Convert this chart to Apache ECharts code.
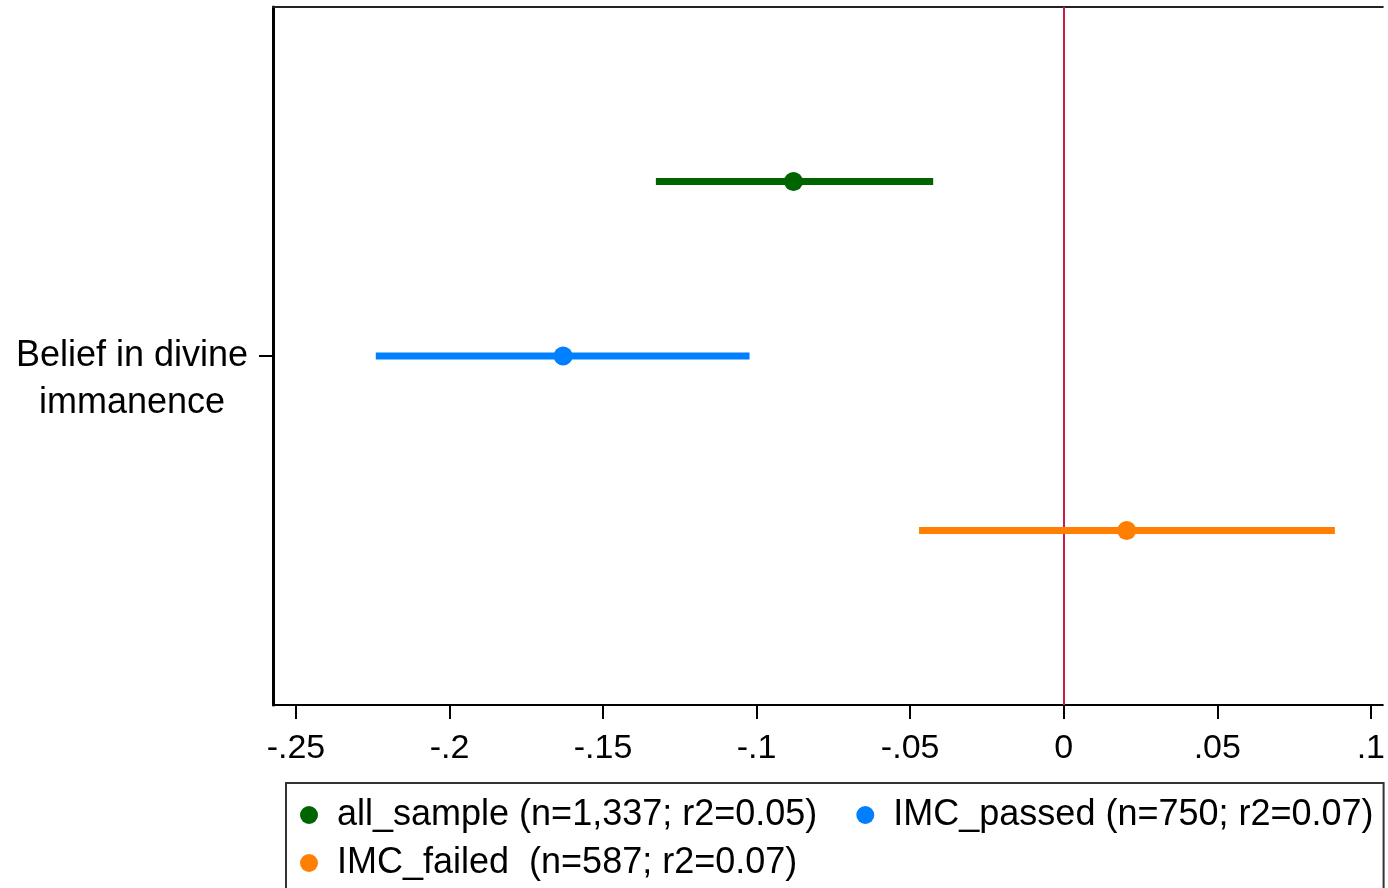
<!doctype html>
<html>

<head>
    <meta charset="utf-8">
    <title>Belief in divine immanence</title>
    <script src="https://cdn.jsdelivr.net/npm/echarts@6/dist/echarts.min.js"></script>
    <style>
        html, body { margin: 0; padding: 0; background: #fff; }
    </style>
</head>

<body>
    <div id="container" style="width:1388px;height:888px;"></div>
    <script type="text/javascript">
        // data
        var rowLabel = ['Belief in divine\nimmanence'];
        var groupNames = ['all_sample (n=1,337; r2=0.05)', 'IMC_passed (n=750; r2=0.07)', 'IMC_failed  (n=587; r2=0.07)'];
        var coef = [-0.088, -0.163, 0.0205];
        var ciLow = [-0.1328, -0.224, -0.0471];
        var ciHigh = [-0.0425, -0.1023, 0.0883];
        var colors = ['#006400', '#0080ff', '#ff8000'];
        var tickValues = [-0.25, -0.2, -0.15, -0.1, -0.05, 0, 0.05, 0.1];
        var tickLabels = ['-.25', '-.2', '-.15', '-.1', '-.05', '0', '.05', '.1'];

        var font = 'Liberation Sans, Arial, sans-serif';
        var xMin = -0.25747, xMax = 0.10390;
        var series = [];
        // 3 rows stacked around the single category at y = 2
        for (var i = 0; i < groupNames.length; i++) {
            var y = 3 - i;
            series.push({
                name: groupNames[i] + ' CI',
                type: 'line',
                data: [[ciLow[i], y], [ciHigh[i], y]],
                showSymbol: false,
                symbol: 'none',
                lineStyle: { color: colors[i], width: 7, cap: 'butt' },
                itemStyle: { color: colors[i] },
                silent: true,
                z: 3
            });
            series.push({
                name: groupNames[i],
                type: 'scatter',
                data: [[coef[i], y]],
                symbol: 'circle',
                symbolSize: 19,
                itemStyle: { color: colors[i], opacity: 1 },
                z: 4
            });
        }
        // vertical reference line at 0
        series[0].markLine = {
            silent: true,
            symbol: 'none',
            label: { show: false },
            lineStyle: { color: '#c81e4b', width: 2, type: 'solid' },
            data: [{ xAxis: 0 }],
            z: 1
        };

        var legendData = [];
        for (var k = 0; k < groupNames.length; k++) {
            legendData.push({
                name: groupNames[k],
                icon: 'circle',
                textStyle: {
                    padding: [0, k === 0 ? 27 : 0, 0, 14]
                }
            });
        }

        var option = {
            animation: false,
            backgroundColor: '#fff',
            grid: {
                left: 273,
                top: 7,
                right: 0,
                bottom: 183,
                show: false
            },
            xAxis: [{
                type: 'value',
                min: xMin,
                max: xMax,
                axisLine: { show: true, onZero: false, lineStyle: { color: '#000', width: 2 } },
                axisTick: { show: true, customValues: tickValues, length: 14, lineStyle: { color: '#000', width: 2 } },
                axisLabel: {
                    customValues: tickValues,
                    formatter: function (v) {
                        for (var j = 0; j < tickValues.length; j++) {
                            if (Math.abs(tickValues[j] - v) < 1e-9) return tickLabels[j];
                        }
                        return '';
                    },
                    fontSize: 34,
                    fontFamily: font,
                    color: '#000',
                    margin: 27
                },
                splitLine: { show: false }
            }, {
                // top frame line only
                type: 'value',
                position: 'top',
                min: xMin,
                max: xMax,
                axisLine: { show: true, onZero: false, lineStyle: { color: '#222', width: 2 } },
                axisTick: { show: false },
                axisLabel: { show: false },
                splitLine: { show: false }
            }],
            yAxis: {
                type: 'value',
                min: 0,
                max: 4,
                axisLine: { show: true, onZero: false, lineStyle: { color: '#000', width: 3 } },
                axisTick: { show: true, customValues: [2], length: 14, lineStyle: { color: '#000', width: 2 } },
                axisLabel: {
                    customValues: [2],
                    formatter: function () { return '\n' + rowLabel[0]; },
                    fontSize: 36,
                    fontFamily: font,
                    color: '#000',
                    align: 'center',
                    verticalAlign: 'middle',
                    lineHeight: 47,
                    margin: 141
                },
                splitLine: { show: false }
            },
            legend: {
                data: legendData,
                selectedMode: false,
                left: 286,
                top: 783,
                width: 1080,
                orient: 'horizontal',
                itemWidth: 18,
                itemHeight: 18,
                itemGap: 12,
                padding: [14, 10, 20, 14],
                borderColor: '#333',
                borderWidth: 2,
                backgroundColor: '#fff',
                textStyle: { fontSize: 36, fontFamily: font, color: '#000', lineHeight: 35 }
            },
            series: series
        };

        var myChart = echarts.init(document.getElementById('container'));
        myChart.setOption(option);
    </script>
</body>

</html>
